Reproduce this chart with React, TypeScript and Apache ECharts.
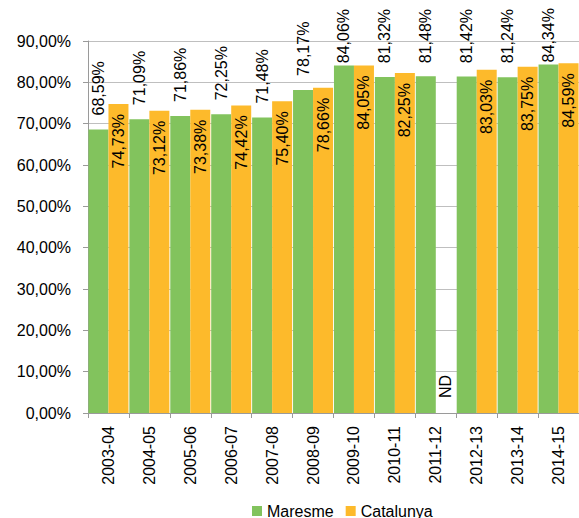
import React, { useEffect, useRef } from "react";
import * as echarts from "echarts";

const categories = [
  "2003-04", "2004-05", "2005-06", "2006-07", "2007-08", "2008-09",
  "2009-10", "2010-11", "2011-12", "2012-13", "2013-14", "2014-15",
];
const maresme = [68.59, 71.09, 71.86, 72.25, 71.48, 78.17, 84.06, 81.32, 81.48, 81.42, 81.24, 84.34];
const catalunya: (number | null)[] = [74.73, 73.12, 73.38, 74.42, 75.40, 78.66, 84.05, 82.25, null, 83.03, 83.75, 84.59];
const missingLabel = "ND";
const seriesNames = ["Maresme", "Catalunya"];

const FONT = "'Liberation Sans', Arial, sans-serif";
const FS = 16;
const GREEN = "#82C35D";
const ORANGE = "#FDBA2B";

const fmt = (v: number) => v.toFixed(2).replace(".", ",") + "%";

export default function App() {
  const ref = useRef<HTMLDivElement>(null);
  useEffect(() => {
    document.body.style.margin = "0";
    const chart = echarts.init(ref.current!, null, { renderer: "svg" });
    const catData = catalunya.map((v) =>
      v === null
        ? {
            value: 0,
            label: {
              show: true,
              position: "top",
              align: "left",
              verticalAlign: "middle",
              distance: 15,
              formatter: missingLabel,
            },
          }
        : v
    );
    chart.setOption({
      animation: false,
      textStyle: { fontFamily: FONT },
      grid: { left: 88, top: 41, width: 499, height: 372 },
      legend: {
        data: seriesNames,
        left: 247,
        top: 498,
        itemWidth: 10,
        itemHeight: 10,
        itemGap: 12,
        icon: "rect",
        textStyle: { fontSize: FS, color: "#000", fontFamily: FONT },
      },
      xAxis: {
        type: "category",
        data: categories,
        axisLine: { lineStyle: { color: "#9a9a9a" } },
        axisTick: { show: true, length: 5, interval: 0, lineStyle: { color: "#9a9a9a" } },
        axisLabel: {
          interval: 0,
          rotate: 90,
          margin: 13,
          fontSize: FS,
          color: "#000",
          fontFamily: FONT,
        },
      },
      yAxis: {
        type: "value",
        min: 0,
        max: 90,
        interval: 10,
        axisLine: { show: true, lineStyle: { color: "#9a9a9a" } },
        axisTick: { show: true, length: 5, lineStyle: { color: "#9a9a9a" } },
        axisLabel: {
          margin: 17,
          fontSize: FS,
          color: "#000",
          fontFamily: FONT,
          formatter: (v: number) => fmt(v),
        },
        splitLine: { lineStyle: { color: "#bfbfbf" } },
      },
      series: [
        {
          id: "m",
          name: seriesNames[0],
          type: "bar",
          data: maresme,
          barWidth: 20,
          barGap: "0%",
          itemStyle: { color: GREEN },
          label: {
            show: true,
            position: "top",
            rotate: 90,
            align: "left",
            verticalAlign: "middle",
            distance: 14,
            fontSize: FS,
            color: "#000",
            fontFamily: FONT,
            formatter: (p: any) => fmt(p.value),
          },
        },
        {
          id: "c",
          name: seriesNames[1],
          type: "bar",
          data: catData,
          barWidth: 20,
          barGap: "0%",
          itemStyle: { color: ORANGE },
          label: {
            show: true,
            position: "insideTop",
            rotate: 90,
            align: "right",
            verticalAlign: "middle",
            distance: 10,
            fontSize: FS,
            color: "#000",
            fontFamily: FONT,
            formatter: (p: any) => fmt(p.value),
          },
        },
      ],
    });

    // keep outside labels inside the chart's top edge
    const canvas = document.createElement("canvas");
    const ctx = canvas.getContext("2d")!;
    ctx.font = `${FS}px ${FONT}`;
    const topLimit = 9;
    const mData = maresme.map((v, i) => {
      const y = (chart.convertToPixel({ gridIndex: 0 } as any, [i, v]) as number[])[1];
      const len = ctx.measureText(fmt(v)).width;
      const d = Math.max(2, Math.min(14, y - topLimit - len));
      return { value: v, label: { distance: d } };
    });
    chart.setOption({ series: [{ id: "m", data: mData }] });

    return () => chart.dispose();
  }, []);
  return <div ref={ref} style={{ width: 579, height: 518 }} />;
}
